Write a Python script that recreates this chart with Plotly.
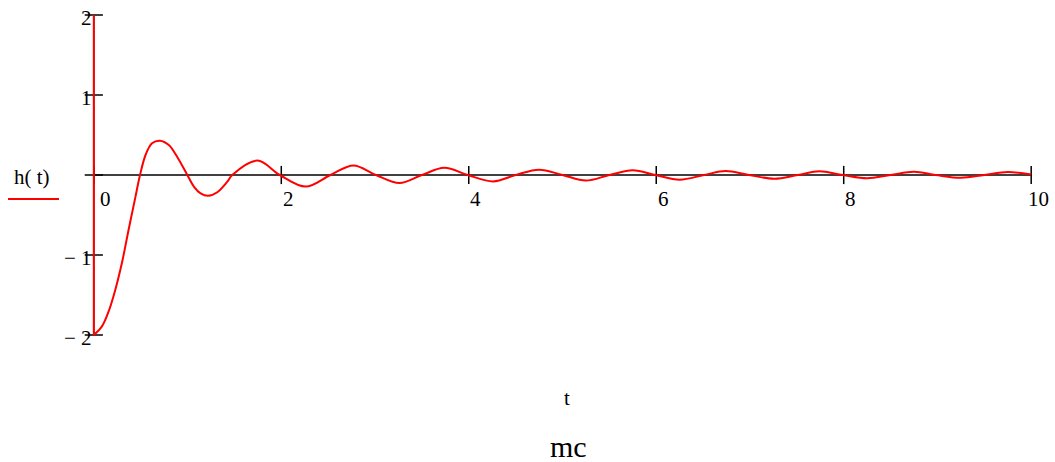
import plotly.graph_objects as go

# ---- data ----
t_vals = [0, 0.085, 0.157, 0.228, 0.299, 0.370, 0.443, 0.493, 0.552, 0.621, 0.706,
          0.80, 0.893, 0.995, 1.069, 1.139, 1.22, 1.317, 1.424, 1.477,
          1.745, 1.985, 2.26, 2.525, 2.77, 3.01, 3.26, 3.50,
          3.74, 3.99, 4.26, 4.50, 4.75, 5.00, 5.25, 5.50, 5.75, 5.99, 6.25, 6.51, 6.74,
          6.99, 7.26, 7.51, 7.74, 7.99, 8.25, 8.50, 8.75, 8.98, 9.25, 9.50, 9.75, 10.0]
h_vals = [-2, -1.896, -1.709, -1.44, -1.104, -0.69, -0.28, 0, 0.25, 0.396, 0.429,
          0.375, 0.219, 0.006, -0.148, -0.229, -0.26, -0.216, -0.084, 0,
          0.18, 0, -0.145, 0, 0.12, 0, -0.10, 0,
          0.09, 0, -0.08, 0, 0.067, 0, -0.07, 0, 0.06, 0, -0.058, 0, 0.05,
          0, -0.046, 0, 0.046, 0, -0.04, 0, 0.04, 0, -0.035, 0, 0.037, 0.005]
# initial jump of h at t = 0
t_jump = [0, 0]
h_jump = [2, -2]

x_ticks = [0, 2, 4, 6, 8, 10]
x_tick_labels = ["0", "2", "4", "6", "8", "10"]
y_ticks = [-2, -1, 0, 1, 2]
y_tick_labels = ["\u2212 2", "\u2212 1", "", "1", "2"]

series_name = "h( t)"
x_title = "t"
caption = "mc"

RED = "#ff0000"
FONT = "Liberation Serif"

fig = go.Figure()

# axis lines (Mathcad "crossed" axes)
fig.add_trace(go.Scatter(
    x=[min(x_ticks), max(x_ticks)], y=[0, 0], mode="lines",
    line=dict(color="black", width=1.5), hoverinfo="skip", showlegend=False))
fig.add_trace(go.Scatter(
    x=[0, 0], y=[min(y_ticks), max(y_ticks)], mode="lines",
    line=dict(color="black", width=1.5), hoverinfo="skip", showlegend=False))
# crossing tick marks on the axes
fig.add_trace(go.Scatter(
    x=x_ticks, y=[0] * len(x_ticks), mode="markers", cliponaxis=False,
    marker=dict(symbol="line-ns", size=13, line=dict(color="black", width=1.5)),
    hoverinfo="skip", showlegend=False))
fig.add_trace(go.Scatter(
    x=[0] * len(y_ticks), y=y_ticks, mode="markers", cliponaxis=False,
    marker=dict(symbol="line-ew", size=13, line=dict(color="black", width=1.5)),
    hoverinfo="skip", showlegend=False))

# the curve
fig.add_trace(go.Scatter(
    x=t_jump, y=h_jump, mode="lines",
    line=dict(color=RED, width=2), hoverinfo="skip", showlegend=False))
fig.add_trace(go.Scatter(
    x=t_vals, y=h_vals, mode="lines",
    line=dict(color=RED, width=2, shape="spline", smoothing=1.0, simplify=False),
    name=series_name, showlegend=False))

annotations = []
for v, lab in zip(y_ticks, y_tick_labels):
    if not lab:
        continue
    annotations.append(dict(
        x=0, y=v, xref="x", yref="y", text=lab, showarrow=False,
        xanchor="right", yanchor="middle", xshift=0, yshift=-3,
        font=dict(family=FONT, size=21, color="black")))
for v, lab in zip(x_ticks, x_tick_labels):
    annotations.append(dict(
        x=v, y=0, xref="x", yref="y", text=lab, showarrow=False,
        xanchor="center", yanchor="middle", xshift=12 if v == 0 else 7, yshift=-24,
        font=dict(family=FONT, size=21, color="black")))

L, R, T, B = 91, 21, 11, 123
W, H = 1055, 462


def px_x(px):
    return (px - L) / (W - L - R)


def px_y(py):
    return (H - py - B) / (H - T - B)


annotations.append(dict(
    x=px_x(567), y=px_y(398), xref="paper", yref="paper", text=x_title, showarrow=False,
    font=dict(family=FONT, size=21, color="black"), xanchor="center", yanchor="middle"))
annotations.append(dict(
    x=px_x(568), y=px_y(446), xref="paper", yref="paper", text=caption, showarrow=False,
    font=dict(family=FONT, size=30, color="black"), xanchor="center", yanchor="middle"))
annotations.append(dict(
    x=px_x(32), y=px_y(177), xref="paper", yref="paper", text=series_name, showarrow=False,
    font=dict(family=FONT, size=21, color="black"), xanchor="center", yanchor="middle"))

fig.update_layout(
    width=W, height=H, autosize=False,
    margin=dict(l=L, r=R, t=T, b=B, pad=0),
    paper_bgcolor="white", plot_bgcolor="white",
    showlegend=False,
    annotations=annotations,
    shapes=[dict(type="line", xref="paper", yref="paper",
                 x0=px_x(8), x1=px_x(59), y0=px_y(199), y1=px_y(199),
                 line=dict(color=RED, width=2))],
    xaxis=dict(range=[-0.03, 10.03], showgrid=False, zeroline=False,
               showticklabels=False, ticks="", showline=False, fixedrange=True),
    yaxis=dict(range=[-2.05, 2.05], showgrid=False, zeroline=False,
               showticklabels=False, ticks="", showline=False, fixedrange=True),
)

fig.write_html("out.html", config={"displayModeBar": False},
               post_script="document.body.style.margin='0';document.body.style.overflow='hidden';")
